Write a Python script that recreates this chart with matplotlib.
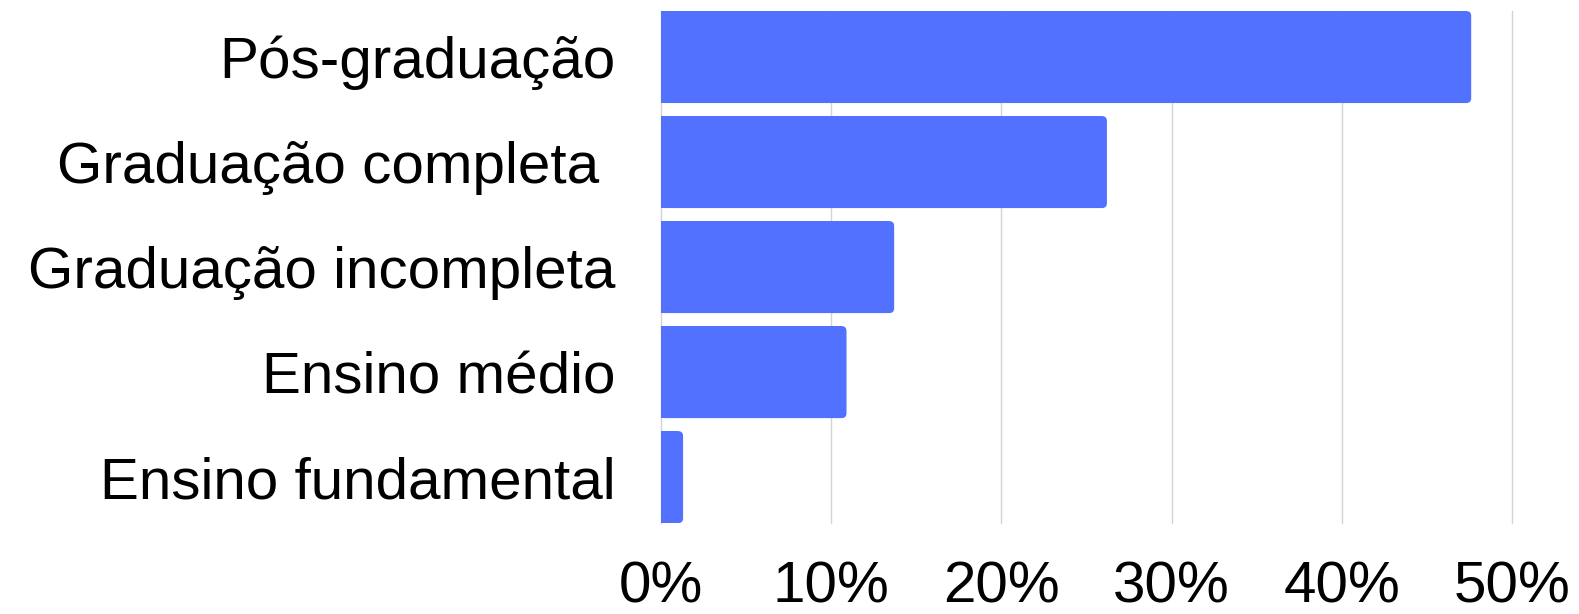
import matplotlib.pyplot as plt
from matplotlib.patches import FancyBboxPatch

categorias = ['Pós-graduação', 'Graduação completa ', 'Graduação incompleta',
              'Ensino médio', 'Ensino fundamental']
valores = [47.6, 26.2, 13.7, 10.9, 1.3]
ticks = [0, 10, 20, 30, 40, 50]
tick_labels = ['0%', '10%', '20%', '30%', '40%', '50%']

cor = '#5271ff'
plt.rcParams['font.family'] = ['Liberation Sans', 'DejaVu Sans']

fig = plt.figure(figsize=(15.79, 6.14), dpi=100)
ax = fig.add_axes([0.4186, 0.148, 0.539, 0.834])

h = 0.876
r = 0.29  # raio do canto em % (eixo x)
for i, v in enumerate(valores):
    # parte reta + ponta arredondada
    ax.barh(i, max(v - r, 0), height=h, color=cor, zorder=2)
    caixa = FancyBboxPatch((0, i - h / 2), v, h,
                           boxstyle='round,pad=0,rounding_size=%f' % r,
                           mutation_aspect=0.162, fc=cor, ec='none', zorder=2)
    ax.add_patch(caixa)

ax.set_xlim(0, 50)
ax.set_ylim(4 + h / 2, -h / 2)
ax.set_xticks(ticks)
ax.set_xticklabels(tick_labels)
ax.set_yticks(range(len(categorias)))
ax.set_yticklabels(categorias)
ax.tick_params(axis='both', length=0, labelsize=42)
ax.tick_params(axis='y', pad=32.5)
ax.tick_params(axis='x', pad=27)
ax.grid(axis='x', color='#d4d4d4', linewidth=1, zorder=0)
for gl in ax.get_xgridlines():
    gl.set_clip_on(False)
for s in ax.spines.values():
    s.set_visible(False)

fig.savefig('out.png', dpi=100)
